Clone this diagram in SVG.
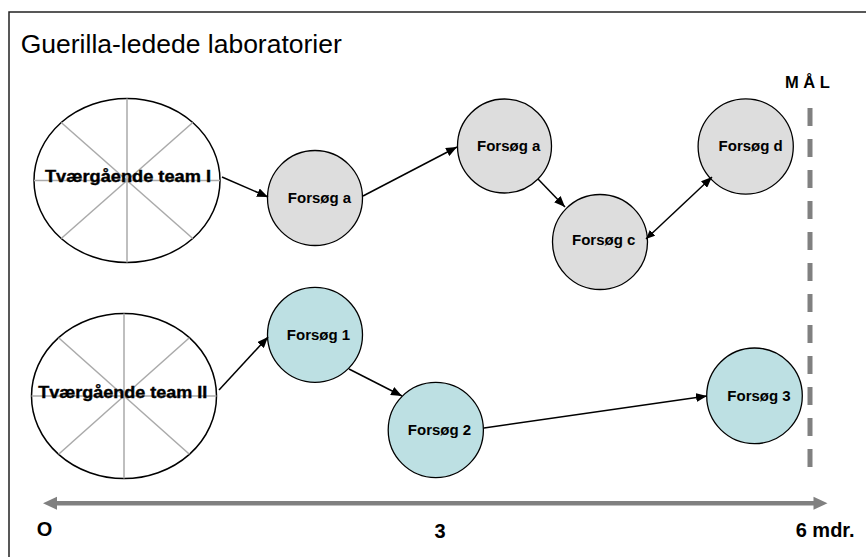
<svg xmlns="http://www.w3.org/2000/svg" width="866" height="557" viewBox="0 0 866 557">
<style>
.t{font-family:"Liberation Sans",Arial,sans-serif;fill:#000}
.b{font-weight:bold}
.n{font-size:15px;font-weight:bold;text-anchor:middle}
.gray{fill:#dddddd;stroke:#000;stroke-width:1.3}
.teal{fill:#bde0e3;stroke:#000;stroke-width:1.3}
.ell{fill:#fff;stroke:#000;stroke-width:1.5}
.spk{stroke:#aaaaaa;stroke-width:1.5}
.con{stroke:#000;stroke-width:1.5;fill:none}
.team{font-size:16.5px;font-weight:bold;stroke:#000;stroke-width:0.4}
</style>
<defs>
<marker id="ah" markerUnits="userSpaceOnUse" markerWidth="11" markerHeight="9" refX="11" refY="4.5" orient="auto">
<path d="M0,0 L11,4.5 L0,9 z" fill="#000"/>
</marker>
<marker id="ahs" markerUnits="userSpaceOnUse" markerWidth="9" markerHeight="8" refX="9" refY="4" orient="auto-start-reverse">
<path d="M0,0 L9,4 L0,8 z" fill="#000"/>
</marker>
</defs>
<rect width="866" height="557" fill="#fff"/>
<g id="frame"><path d="M9,560 L9,12 L870,12" fill="none" stroke="#222" stroke-width="1.5"/></g>
<g id="title"><text class="t" x="20.7" y="53.3" font-size="26.5">Guerilla-ledede laboratorier</text></g>

<g id="team1">
<ellipse class="ell" cx="127" cy="180.5" rx="93" ry="82"/>
<line class="spk" x1="127" y1="98.5" x2="127" y2="262.5"/>
<line class="spk" x1="34" y1="180.5" x2="220" y2="180.5"/>
<line class="spk" x1="61.2" y1="122.5" x2="192.8" y2="238.5"/>
<line class="spk" x1="61.2" y1="238.5" x2="192.8" y2="122.5"/>
<text class="t team" x="45" y="182" textLength="166" lengthAdjust="spacingAndGlyphs">Tværgående team I</text>
</g>
<g id="team2">
<ellipse class="ell" cx="124" cy="396" rx="92.5" ry="82.5"/>
<line class="spk" x1="124" y1="313.5" x2="124" y2="478.5"/>
<line class="spk" x1="31.5" y1="396" x2="216.5" y2="396"/>
<line class="spk" x1="58.6" y1="337.7" x2="189.4" y2="454.3"/>
<line class="spk" x1="58.6" y1="454.3" x2="189.4" y2="337.7"/>
<text class="t team" x="38.3" y="397.5" textLength="169" lengthAdjust="spacingAndGlyphs">Tværgående team II</text>
</g>

<g id="fa1"><circle class="gray" cx="315" cy="198" r="47.5"/><text class="t n" x="319.5" y="202.5">Forsøg a</text></g>
<g id="fa2"><circle class="gray" cx="504.5" cy="146" r="47"/><text class="t n" x="508.7" y="151">Forsøg a</text></g>
<g id="fc"><circle class="gray" cx="600" cy="242" r="47.5"/><text class="t n" x="603.7" y="245">Forsøg c</text></g>
<g id="fd"><circle class="gray" cx="745.7" cy="146.5" r="47.6"/><text class="t n" x="750.7" y="151">Forsøg d</text></g>
<g id="f1"><circle class="teal" cx="315" cy="334.8" r="47.5"/><text class="t n" x="318.5" y="340">Forsøg 1</text></g>
<g id="f2"><circle class="teal" cx="435.8" cy="430" r="47.6"/><text class="t n" x="439.5" y="435">Forsøg 2</text></g>
<g id="f3"><circle class="teal" cx="754.5" cy="395.8" r="47.8"/><text class="t n" x="759" y="401">Forsøg 3</text></g>

<g id="connectors">
<line class="con" x1="222" y1="177" x2="268" y2="197" marker-end="url(#ah)"/>
<line class="con" x1="363" y1="196" x2="457" y2="147" marker-end="url(#ah)"/>
<line class="con" x1="538" y1="179" x2="565" y2="207" marker-end="url(#ah)"/>
<line class="con" x1="646" y1="239" x2="712" y2="177" marker-start="url(#ahs)" marker-end="url(#ah)"/>
<line class="con" x1="219" y1="390" x2="268" y2="337" marker-end="url(#ah)"/>
<line class="con" x1="349" y1="369" x2="402" y2="396" marker-end="url(#ah)"/>
<line class="con" x1="484" y1="428" x2="707" y2="396" marker-end="url(#ah)"/>
</g>

<g id="goal">
<line x1="810" y1="108" x2="810" y2="476" stroke="#808080" stroke-width="5" stroke-dasharray="18 13"/>
<text class="t b" x="785" y="88.3" font-size="16.5">M Å L</text>
</g>

<g id="axis">
<line x1="55" y1="503.3" x2="815" y2="503.3" stroke="#808080" stroke-width="4.5"/>
<polygon points="43,503.3 57,496.8 57,509.8" fill="#808080"/>
<polygon points="827.5,503.3 813.5,496.8 813.5,509.8" fill="#808080"/>
<text class="t b" x="36.7" y="536" font-size="20">O</text>
<text class="t b" x="440" y="538.3" font-size="20" text-anchor="middle">3</text>
<text class="t b" x="795.7" y="536.7" font-size="20">6 mdr.</text>
</g>
</svg>
